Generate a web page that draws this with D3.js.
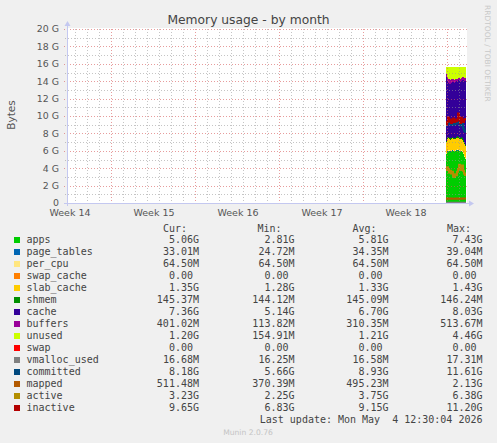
<!DOCTYPE html>
<html><head><meta charset="utf-8">
<script src="https://cdn.jsdelivr.net/npm/d3@7"></script>
<style>
html,body{margin:0;padding:0;background:#f0f0f0;}
svg{display:block;}
text{white-space:pre;}
</style></head><body>
<svg id="chart" width="497" height="443"></svg>
<script>
// ---------------- data ----------------
const times = ["2026-05-03T22:00Z","2026-05-04T00:00Z","2026-05-04T02:00Z","2026-05-04T04:00Z","2026-05-04T06:00Z",
  "2026-05-04T08:00Z","2026-05-04T10:00Z","2026-05-04T12:00Z","2026-05-04T14:00Z","2026-05-04T16:00Z",
  "2026-05-04T18:00Z","2026-05-04T20:00Z","2026-05-04T22:00Z","2026-05-05T00:00Z","2026-05-05T02:00Z",
  "2026-05-05T04:00Z","2026-05-05T06:00Z","2026-05-05T08:00Z","2026-05-05T10:00Z","2026-05-05T12:00Z"];
// values in GiB
const apps        = [5.60,5.90,6.00,5.95,5.90,5.95,6.00,5.95,5.90,5.95,6.00,6.05,6.00,5.95,5.90,5.95,5.85,5.60,5.30,5.06];
const page_tables = [0.030,0.032,0.034,0.035,0.034,0.033,0.035,0.036,0.034,0.033,0.035,0.037,0.036,0.034,0.033,0.035,0.034,0.033,0.034,0.033];
const per_cpu     = [0.0645,0.0645,0.0645,0.0645,0.0645,0.0645,0.0645,0.0645,0.0645,0.0645,0.0645,0.0645,0.0645,0.0645,0.0645,0.0645,0.0645,0.0645,0.0645,0.0645];
const swap_cache  = [0,0,0,0,0,0,0,0,0,0,0,0,0,0,0,0,0,0,0,0];
const slab_cache  = [1.30,1.33,1.35,1.33,1.30,1.32,1.34,1.33,1.32,1.33,1.34,1.35,1.33,1.32,1.33,1.34,1.33,1.36,1.38,1.35];
const shmem       = [0.144,0.145,0.146,0.145,0.144,0.145,0.146,0.145,0.145,0.145,0.146,0.145,0.145,0.144,0.145,0.146,0.145,0.145,0.146,0.145];
const cache       = [7.31,6.58,6.21,6.20,6.21,6.29,6.37,6.38,6.36,6.38,6.40,6.36,6.55,6.64,6.53,6.52,6.70,6.90,7.06,7.35];
const buffers     = [0.35,0.45,0.50,0.48,0.45,0.40,0.35,0.30,0.28,0.30,0.32,0.30,0.28,0.25,0.30,0.35,0.38,0.40,0.42,0.40];
const unused      = [0.80,1.10,1.30,1.40,1.50,1.40,1.30,1.40,1.50,1.40,1.30,1.30,1.20,1.20,1.30,1.20,1.10,1.10,1.20,1.20];
const swap        = [0,0,0,0,0,0,0,0,0,0,0,0,0,0,0,0,0,0,0,0];
const vmalloc_used= [0.016,0.016,0.017,0.017,0.016,0.017,0.017,0.016,0.016,0.017,0.017,0.016,0.017,0.017,0.016,0.017,0.017,0.016,0.017,0.017];
const committed   = [8.9,9.2,9.5,9.1,9.3,9.0,9.2,9.4,9.0,9.3,9.1,9.2,9.9,9.3,8.9,9.4,9.1,8.6,8.3,8.18];
const mapped      = [0.48,0.52,0.50,0.49,0.51,0.53,0.50,0.48,0.50,0.52,0.51,0.49,0.50,0.52,0.51,0.50,0.49,0.51,0.52,0.51];
const active      = [3.8,4.1,3.9,3.5,3.7,3.4,3.6,3.1,3.0,3.3,3.2,3.6,3.9,4.4,4.2,3.8,4.3,3.7,3.4,3.23];
const inactive    = [9.0,9.3,9.8,9.4,9.6,9.2,9.5,9.7,9.3,9.6,9.4,9.5,10.3,9.6,9.2,9.8,9.5,9.3,9.6,9.65];

const areaKeys = ["apps","page_tables","per_cpu","swap_cache","slab_cache","shmem","cache","buffers","unused","swap"];
const lineKeys = ["vmalloc_used","committed","mapped","active","inactive"];
const seriesNames  = ["apps","page_tables","per_cpu","swap_cache","slab_cache","shmem","cache","buffers","unused","swap","vmalloc_used","committed","mapped","active","inactive"];
const seriesColors = ["#00CC00","#0066B3","#FFE680","#FF8000","#FFCC00","#008F00","#330099","#990099","#CCFF00","#FF0000","#808080","#00487D","#B35A00","#B38F00","#B30000"];
const curVals = ["5.06G","33.01M","64.50M","0.00 ","1.35G","145.37M","7.36G","401.02M","1.20G","0.00 ","16.68M","8.18G","511.48M","3.23G","9.65G"];
const minVals = ["2.81G","24.72M","64.50M","0.00 ","1.28G","144.12M","5.14G","113.82M","154.91M","0.00 ","16.25M","5.66G","370.39M","2.25G","6.83G"];
const avgVals = ["5.81G","34.35M","64.50M","0.00 ","1.33G","145.09M","6.70G","310.35M","1.21G","0.00 ","16.58M","8.93G","495.23M","3.75G","9.15G"];
const maxVals = ["7.43G","39.04M","64.50M","0.00 ","1.43G","146.24M","8.03G","513.67M","4.46G","0.00 ","17.31M","11.61G","2.13G","6.38G","11.20G"];
const weekLabels = ["Week 14","Week 15","Week 16","Week 17","Week 18"];
const weekLabelDates = ["2026-04-02T12:00Z","2026-04-09T12:00Z","2026-04-16T12:00Z","2026-04-23T12:00Z","2026-04-30T12:00Z"];
const yTickValues = [0,2,4,6,8,10,12,14,16,18,20];
const yTickLabels = ["0","2 G","4 G","6 G","8 G","10 G","12 G","14 G","16 G","18 G","20 G"];
const title = "Memory usage - by month";
const lastUpdate = "Last update: Mon May  4 12:30:04 2026";

// ---------------- chart ----------------
const seriesData = {apps,page_tables,per_cpu,swap_cache,slab_cache,shmem,cache,buffers,unused,swap,
                    vmalloc_used,committed,mapped,active,inactive};
const colorOf = k => seriesColors[seriesNames.indexOf(k)];
const svg = d3.select("#chart");
const L = 67, R = 467, T = 29, B = 203;
const STEP = 2*3600e3;

const x = d3.scaleUtc()
  .domain([new Date("2026-04-02T08:00Z"), new Date("2026-05-05T16:00Z")])
  .range([L, R]);
const y = d3.scaleLinear().domain([0, 20]).range([B, T]);

svg.append("rect").attr("width",497).attr("height",443).attr("fill","#f0f0f0");
svg.append("rect").attr("x",L).attr("y",T-1).attr("width",R-L).attr("height",B-T+1).attr("fill","#ffffff");

const dates = times.map(t => new Date(t));
const rows = dates.map((d,i) => {
  const r = {date:d};
  for (const k of seriesNames) r[k] = seriesData[k][i];
  return r;
});
const last = Object.assign({}, rows[rows.length-1], {date:new Date(+dates[dates.length-1] + STEP)});
const rowsExt = rows.concat([last]);

const stacked = d3.stack().keys(areaKeys)(rowsExt);
const area = d3.area()
  .x(d => x(d.data.date))
  .y0(d => y(d[0])).y1(d => y(d[1]))
  .curve(d3.curveStepAfter);
svg.append("g").selectAll("path").data(stacked).join("path")
  .attr("d", area)
  .attr("fill", s => colorOf(s.key))
  .attr("shape-rendering","crispEdges");

const line = k => d3.line()
  .x(d => x(d.date)).y(d => y(d[k]))
  .curve(d3.curveStepAfter);
svg.append("g").selectAll("path").data(lineKeys).join("path")
  .attr("d", k => line(k)(rowsExt))
  .attr("fill","none")
  .attr("stroke", k => colorOf(k))
  .attr("stroke-width",2);

// grid (on top, as rrdtool draws it)
const grid = svg.append("g");
const minorY = d3.range(0, 21, 1).filter(v => v % 2 !== 0);
grid.selectAll("line.hmin").data(minorY).join("line")
  .attr("x1",L-2).attr("x2",R).attr("y1",d=>Math.round(y(d))+0.5).attr("y2",d=>Math.round(y(d))+0.5)
  .attr("stroke","rgba(150,150,150,0.55)").attr("stroke-dasharray","1,2");
grid.selectAll("line.hmaj").data(yTickValues.filter(v=>v>0)).join("line")
  .attr("x1",L-3).attr("x2",R).attr("y1",d=>Math.round(y(d))+0.5).attr("y2",d=>Math.round(y(d))+0.5)
  .attr("stroke","rgba(215,90,90,0.6)").attr("stroke-dasharray","1,2");
const days = d3.utcDay.range(x.domain()[0], x.domain()[1]).filter(d => d.getUTCDay() !== 1);
grid.selectAll("line.vmin").data(days).join("line")
  .attr("x1",d=>Math.round(x(d))+0.5).attr("x2",d=>Math.round(x(d))+0.5).attr("y1",T).attr("y2",B+2)
  .attr("stroke","rgba(150,150,150,0.55)").attr("stroke-dasharray","1,2");
const mondays = d3.utcMonday.range(x.domain()[0], x.domain()[1]);
grid.selectAll("line.vmaj").data(mondays).join("line")
  .attr("x1",d=>Math.round(x(d))+0.5).attr("x2",d=>Math.round(x(d))+0.5).attr("y1",T).attr("y2",B+3)
  .attr("stroke","rgba(215,90,90,0.6)").attr("stroke-dasharray","1,2");

// axes
const axisColor = "#c4c8f0";
svg.append("line").attr("x1",L-3).attr("x2",R+4).attr("y1",B+0.5).attr("y2",B+0.5).attr("stroke",axisColor);
svg.append("path").attr("d",`M${R+2},${B-2.5}L${R+7},${B+0.5}L${R+2},${B+3.5}Z`).attr("fill",axisColor);
svg.append("line").attr("x1",L+0.5).attr("x2",L+0.5).attr("y1",B+3).attr("y2",T-5).attr("stroke",axisColor);
svg.append("path").attr("d",`M${L-2.5},${T-3}L${L+0.5},${T-8}L${L+3.5},${T-3}Z`).attr("fill",axisColor);

const tickFont = "DejaVu Sans, sans-serif";
svg.append("g").selectAll("text").data(yTickValues).join("text")
  .attr("x",59).attr("y",d=>y(d)).attr("dy","0.36em")
  .attr("text-anchor","end").attr("font-family",tickFont).attr("font-size",9.4).attr("fill","#555")
  .text((d,i)=>yTickLabels[i]);
svg.append("g").selectAll("text").data(weekLabelDates).join("text")
  .attr("x",d=>x(new Date(d))+1).attr("y",216)
  .attr("text-anchor","middle").attr("font-family",tickFont).attr("font-size",9.5).attr("fill","#555")
  .text((d,i)=>weekLabels[i]);

svg.append("text").attr("x",248.5).attr("y",24).attr("text-anchor","middle")
  .attr("font-family",tickFont).attr("font-size",12.3).attr("fill","#444").text(title);
svg.append("text").attr("transform","translate(15,115) rotate(-90)").attr("text-anchor","middle")
  .attr("font-family",tickFont).attr("font-size",10.5).attr("fill","#555").text("Bytes");
svg.append("text").attr("transform","translate(484.5,5) rotate(90)").attr("text-anchor","start")
  .attr("font-family",tickFont).attr("font-size",7.5).attr("fill","#c8c8c8").text("RRDTOOL / TOBI OETIKER");

// legend
const mono = "DejaVu Sans Mono, monospace";
const lg = svg.append("g").attr("font-family",mono).attr("font-size",10).attr("fill","#444");
const hdr = [["Cur:",163],["Min:",257.5],["Avg:",352.5],["Max:",447]];
lg.selectAll("text.h").data(hdr).join("text").attr("x",d=>d[1]).attr("y",232).text(d=>d[0]);
const rowY = i => 243 + i*12;
lg.selectAll("rect").data(seriesNames).join("rect")
  .attr("x",14).attr("y",(d,i)=>rowY(i)-6).attr("width",6).attr("height",6)
  .attr("fill",(d,i)=>seriesColors[i]);
lg.selectAll("text.n").data(seriesNames).join("text")
  .attr("x",26.5).attr("y",(d,i)=>rowY(i)).text(d=>d);
const cols = [[curVals,199],[minVals,294.5],[avgVals,388.5],[maxVals,482.5]];
cols.forEach(([vals,xe]) => {
  lg.append("g").selectAll("text").data(vals).join("text")
    .attr("x",xe).attr("y",(d,i)=>rowY(i)).attr("text-anchor","end").text(d=>d);
});
lg.append("text").attr("x",482.5).attr("y",423).attr("text-anchor","end").text(lastUpdate);
svg.append("text").attr("x",248).attr("y",435).attr("text-anchor","middle")
  .attr("font-family",tickFont).attr("font-size",7.6).attr("fill","#c4c4c4").text("Munin 2.0.76");
</script>
</body></html>
